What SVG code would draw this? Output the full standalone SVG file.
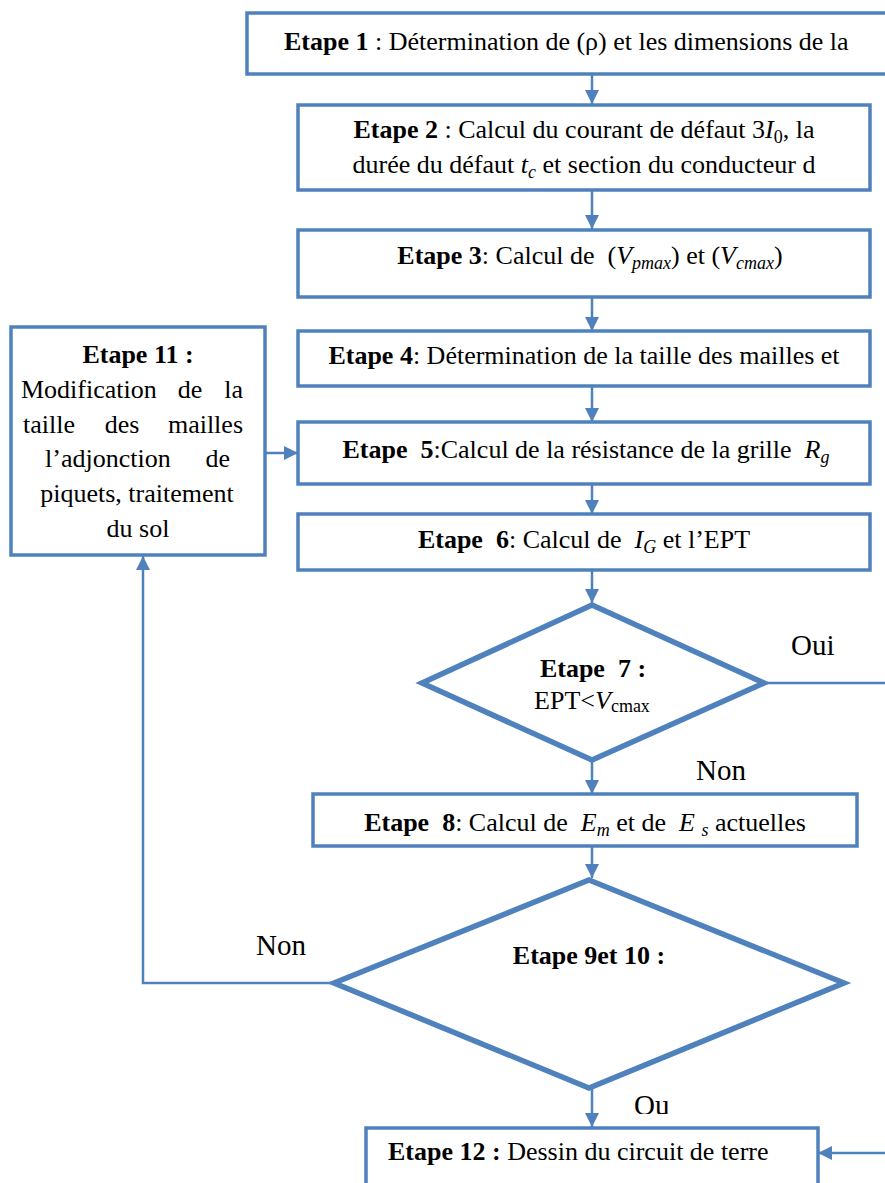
<svg xmlns="http://www.w3.org/2000/svg" width="885" height="1183" viewBox="0 0 885 1183" font-family="'Liberation Serif','Times New Roman',serif">
<defs>
<style>
.box{fill:#fff;stroke:#4F81BD;stroke-width:3.5}
.dia{fill:#fff;stroke:#4F81BD;stroke-width:5.5;stroke-linejoin:miter}
.con{fill:none;stroke:#4F81BD;stroke-width:2.5}
text{font-family:"Liberation Serif","Times New Roman",serif;font-size:26px;fill:#000}
.b{font-weight:bold}
.i{font-style:italic}
.c{text-anchor:middle}
.e{text-anchor:end}
.lab{font-size:29px}
.s{font-size:18px}
</style>
<marker id="ah" markerUnits="userSpaceOnUse" markerWidth="14" markerHeight="14" viewBox="0 0 14 14" refX="14" refY="7" orient="auto">
<path d="M0,0 L14,7 L0,14 Z" fill="#4F81BD"/>
</marker>
<clipPath id="ouclip"><rect x="600" y="1080" width="120" height="34"/></clipPath>
</defs>
<rect width="885" height="1183" fill="#fff"/>

<g id="connectors">
<line class="con" x1="592" y1="74" x2="592" y2="104" marker-end="url(#ah)"/>
<line class="con" x1="592" y1="190" x2="592" y2="229" marker-end="url(#ah)"/>
<line class="con" x1="592" y1="297" x2="592" y2="331" marker-end="url(#ah)"/>
<line class="con" x1="592" y1="386" x2="592" y2="422" marker-end="url(#ah)"/>
<line class="con" x1="592" y1="484" x2="592" y2="514" marker-end="url(#ah)"/>
<line class="con" x1="592" y1="570" x2="592" y2="603" marker-end="url(#ah)"/>
<line class="con" x1="592" y1="762" x2="592" y2="794" marker-end="url(#ah)"/>
<line class="con" x1="592" y1="846" x2="592" y2="878" marker-end="url(#ah)"/>
<line class="con" x1="765" y1="683" x2="885" y2="683"/>
<polyline class="con" points="332,983 143,983 143,556" marker-end="url(#ah)"/>
<line class="con" x1="265" y1="453" x2="298" y2="453" marker-end="url(#ah)"/>
<line class="con" x1="592" y1="1088" x2="592" y2="1127" marker-end="url(#ah)"/>
<line class="con" x1="885" y1="1153" x2="818" y2="1153" marker-end="url(#ah)"/>
<text class="lab" x="791" y="655">Oui</text>
<text class="lab" x="696" y="780">Non</text>
<text class="lab" x="256" y="955">Non</text>
<text class="lab" x="634" y="1115" clip-path="url(#ouclip)">Ou</text>
</g>

<g id="n1">
<rect class="box" x="247" y="13" width="650" height="61"/>
<text x="284" y="50"><tspan class="b">Etape 1</tspan> : Détermination de (ρ) et les dimensions de la</text>
</g>

<g id="n2">
<rect class="box" x="298" y="105" width="572" height="85"/>
<text class="c" x="584" y="138"><tspan class="b">Etape 2</tspan> : Calcul du courant de défaut 3<tspan class="i">I</tspan><tspan class="s" dy="5">0</tspan><tspan dy="-5">, la</tspan></text>
<text class="c" x="584" y="173">durée du défaut <tspan class="i">t</tspan><tspan class="i s" dy="5">c</tspan><tspan dy="-5"> et section du conducteur d</tspan></text>
</g>

<g id="n3">
<rect class="box" x="298" y="230" width="572" height="67"/>
<text class="c" x="590" y="264" xml:space="preserve"><tspan class="b">Etape 3</tspan>: Calcul de  (<tspan class="i">V</tspan><tspan class="i s" dy="5">pmax</tspan><tspan dy="-5">) et (</tspan><tspan class="i">V</tspan><tspan class="i s" dy="5">cmax</tspan><tspan dy="-5">)</tspan></text>
</g>

<g id="n4">
<rect class="box" x="298" y="331" width="572" height="55"/>
<text class="c" x="584" y="364"><tspan class="b">Etape 4</tspan>: Détermination de la taille des mailles et</text>
</g>

<g id="n5">
<rect class="box" x="298" y="422" width="572" height="62"/>
<text class="c" x="586" y="458" xml:space="preserve"><tspan class="b">Etape  5</tspan>:Calcul de la résistance de la grille  <tspan class="i">R</tspan><tspan class="i s" dy="5">g</tspan></text>
</g>

<g id="n6">
<rect class="box" x="298" y="514" width="572" height="56"/>
<text class="c" x="584" y="548" xml:space="preserve"><tspan class="b">Etape  6</tspan>: Calcul de  <tspan class="i">I</tspan><tspan class="i s" dy="5">G</tspan><tspan dy="-5"> et l’EPT</tspan></text>
</g>

<g id="n7">
<polygon class="dia" points="592,605 764,683 592,760 422,683"/>
<text class="c b" x="593" y="677" xml:space="preserve">Etape  7 :</text>
<text class="c" x="592" y="709">EPT&lt;<tspan class="i">V</tspan><tspan class="s" dy="3">cmax</tspan></text>
</g>

<g id="n8">
<rect class="box" x="313" y="794" width="544" height="52"/>
<text class="c" x="585" y="831" xml:space="preserve"><tspan class="b">Etape  8</tspan>: Calcul de  <tspan class="i">E</tspan><tspan class="i s" dy="5">m</tspan><tspan dy="-5"> et de  </tspan><tspan class="i">E </tspan><tspan class="i s" dy="5">s</tspan><tspan dy="-5"> actuelles</tspan></text>
</g>

<g id="n9">
<polygon class="dia" points="589,880 844,983 589,1088 334,983"/>
<text class="c b" x="589" y="964">Etape 9et 10 :</text>
</g>

<g id="n11">
<rect class="box" x="11" y="327" width="254" height="228"/>
<text class="c b" x="138" y="363">Etape 11 :</text>
<text x="21" y="398">Modification</text><text class="c" x="190" y="398">de</text><text class="e" x="243" y="398">la</text>
<text x="23" y="433">taille</text><text class="c" x="122" y="433">des</text><text class="e" x="243" y="433">mailles</text>
<text x="45" y="467">l’adjonction</text><text class="e" x="230" y="467">de</text>
<text class="c" x="137" y="502">piquets, traitement</text>
<text class="c" x="138" y="537">du sol</text>
</g>

<g id="n12">
<rect class="box" x="366" y="1128" width="452" height="70"/>
<text x="388" y="1160"><tspan class="b">Etape 12 :</tspan> Dessin du circuit de terre</text>
</g>
</svg>
